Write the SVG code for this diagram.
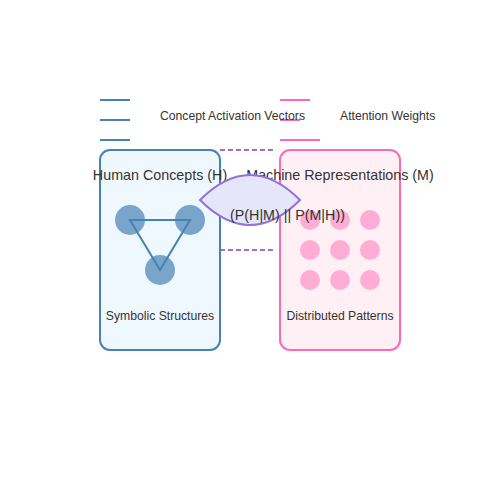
<svg xmlns="http://www.w3.org/2000/svg" width="500" height="500" viewBox="0 0 500 500">
<style>
text{font-family:"Liberation Sans",Arial,sans-serif;fill:#333}
.t{font-size:14.3px;text-anchor:middle}
.l{font-size:12.2px}
.c{font-size:12.2px;text-anchor:middle}
.blue{stroke:#4682b4;stroke-width:2;fill:none}
.pink{stroke:#ff69b4;stroke-width:2;fill:none}
.dash{stroke:#9370db;stroke-width:2;stroke-dasharray:5,3;fill:none}
.hc{fill:#4682b4;opacity:0.7}
.mc{fill:#ff69b4;opacity:0.5}
</style>
<rect width="500" height="500" fill="#fff"/>
<g id="legend">
<line class="blue" x1="100" y1="100" x2="130" y2="100"/>
<line class="blue" x1="100" y1="120" x2="130" y2="120"/>
<line class="blue" x1="100" y1="140" x2="130" y2="140"/>
<line class="pink" x1="280" y1="100" x2="310" y2="100"/>
<line class="pink" x1="280" y1="120" x2="300" y2="120"/>
<line class="pink" x1="280" y1="140" x2="320" y2="140"/>
<text class="l" x="160" y="120">Concept Activation Vectors</text>
<text class="l" x="340" y="120">Attention Weights</text>
</g>
<g id="connectors">
<line class="dash" x1="220" y1="150" x2="275" y2="150"/>
<line class="dash" x1="220" y1="250" x2="275" y2="250"/>
</g>
<g id="human">
<rect x="100" y="150" width="120" height="200" rx="10" fill="#f0f8ff" stroke="#4682b4" stroke-width="2"/>
<text class="t" x="160" y="180">Human Concepts (H)</text>
<circle class="hc" cx="130" cy="220" r="15"/>
<circle class="hc" cx="190" cy="220" r="15"/>
<circle class="hc" cx="160" cy="270" r="15"/>
<path class="blue" d="M130,220 L190,220 L160,270 Z"/>
<text class="c" x="160" y="320">Symbolic Structures</text>
</g>
<g id="machine">
<rect x="280" y="150" width="120" height="200" rx="10" fill="#fff0f5" stroke="#ff69b4" stroke-width="2"/>
<text class="t" x="340" y="180">Machine Representations (M)</text>
<circle class="mc" cx="310" cy="220" r="10"/>
<circle class="mc" cx="340" cy="220" r="10"/>
<circle class="mc" cx="370" cy="220" r="10"/>
<circle class="mc" cx="310" cy="250" r="10"/>
<circle class="mc" cx="340" cy="250" r="10"/>
<circle class="mc" cx="370" cy="250" r="10"/>
<circle class="mc" cx="310" cy="280" r="10"/>
<circle class="mc" cx="340" cy="280" r="10"/>
<circle class="mc" cx="370" cy="280" r="10"/>
<text class="c" x="340" y="320">Distributed Patterns</text>
</g>
<g id="divergence">
<path d="M200,200 Q250,150 300,200 Q250,250 200,200 Z" fill="#e6e6fa" stroke="#9370db" stroke-width="2"/>
<text x="230" y="220" style="font-size:14.3px">(P(H|M) || P(M|H))</text>
</g>
</svg>
